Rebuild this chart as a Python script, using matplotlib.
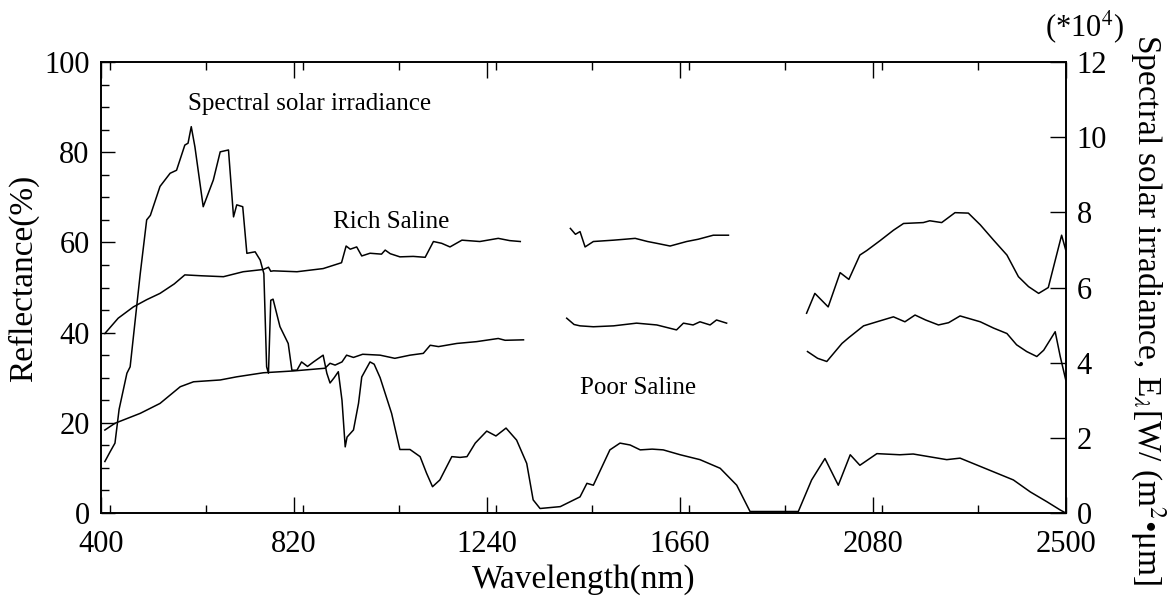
import matplotlib
matplotlib.use("Agg")
import matplotlib.pyplot as plt
from matplotlib.ticker import MultipleLocator

plt.rcParams['font.family'] = ['Liberation Serif', 'DejaVu Serif']
plt.rcParams['mathtext.fontset'] = 'stix'

# ---- data ----
irr_nm = [409, 420, 431, 440, 457, 464, 486, 500, 508, 529, 551, 565, 583, 590, 597, 605,
          623, 645, 660, 678, 689, 696, 709, 718, 736, 747, 755, 761, 765, 770, 775, 790,
          808, 816, 827, 837, 850, 863, 884, 892, 899, 908, 917, 925, 932, 936, 950, 961,
          968, 986, 995, 1008, 1033, 1051, 1073, 1095, 1109, 1122, 1138, 1164, 1182, 1197,
          1215, 1240, 1260, 1282, 1305, 1327, 1341, 1356, 1400, 1443, 1458, 1472, 1508,
          1530, 1552, 1574, 1600, 1624, 1661, 1704, 1748, 1784, 1813, 1918, 1947, 1976,
          2005, 2031, 2052, 2089, 2139, 2168, 2241, 2270, 2314, 2350, 2386, 2423, 2459,
          2488, 2500]
irr_val = [1.37, 1.62, 1.86, 2.76, 3.72, 3.89, 6.37, 7.80, 7.92, 8.69, 9.04, 9.12, 9.79, 9.84,
           10.28, 9.74, 8.15, 8.86, 9.61, 9.66, 7.88, 8.20, 8.15, 6.91, 6.95, 6.73, 6.37, 3.89,
           3.72, 5.66, 5.69, 4.96, 4.51, 3.80, 3.80, 4.02, 3.90, 4.02, 4.20, 3.72, 3.46, 3.60,
           3.76, 3.00, 1.76, 2.02, 2.21, 2.92, 3.62, 4.02, 3.96, 3.60, 2.65, 1.69, 1.69, 1.50,
           1.06, 0.70, 0.88, 1.50, 1.48, 1.50, 1.86, 2.18, 2.05, 2.26, 1.94, 1.32, 0.35, 0.12,
           0.17, 0.43, 0.79, 0.74, 1.68, 1.86, 1.81, 1.68, 1.70, 1.68, 1.55, 1.42, 1.19, 0.74,
           0.04, 0.04, 0.88, 1.45, 0.74, 1.55, 1.27, 1.58, 1.55, 1.57, 1.42, 1.46, 1.24, 1.06,
           0.88, 0.56, 0.30, 0.08, 0.0]

rich1_nm = [409, 438, 471, 500, 529, 560, 583, 620, 667, 710, 754, 765, 770, 776, 827, 884,
            924, 934, 943, 957, 968, 986, 1011, 1019, 1030, 1051, 1080, 1106, 1124, 1142,
            1160, 1186, 1225, 1265, 1290, 1313]
rich1_val = [39.8, 43.2, 45.7, 47.3, 48.7, 50.8, 52.8, 52.6, 52.4, 53.5, 54.0, 54.5, 53.6,
             53.7, 53.5, 54.2, 55.5, 59.2, 58.5, 59.0, 57.0, 57.6, 57.4, 58.3, 57.5, 56.8,
             56.9, 56.7, 60.2, 59.8, 59.0, 60.5, 60.2, 60.9, 60.4, 60.2]
rich2_nm = [1422, 1433, 1443, 1454, 1472, 1516, 1540, 1563, 1590, 1610, 1639, 1675, 1700,
            1733, 1766]
rich2_val = [63.1, 61.8, 62.4, 59.0, 60.2, 60.5, 60.7, 60.9, 60.2, 59.8, 59.2, 60.2, 60.7,
             61.6, 61.6]
rich3_nm = [1936, 1954, 1983, 2009, 2028, 2052, 2067, 2096, 2125, 2147, 2190, 2204, 2230,
            2259, 2288, 2314, 2343, 2372, 2397, 2419, 2441, 2462, 2491, 2500]
rich3_val = [44.3, 48.7, 45.7, 53.3, 51.8, 57.2, 58.2, 60.4, 62.7, 64.2, 64.4, 64.8, 64.4,
             66.6, 66.5, 63.9, 60.5, 57.2, 52.4, 50.2, 48.7, 50.0, 61.6, 58.3]

poor1_nm = [409, 431, 486, 529, 573, 602, 660, 696, 754, 819, 888, 899, 910, 925, 935, 950,
            970, 1008, 1040, 1073, 1102, 1117, 1135, 1175, 1218, 1265, 1280, 1320]
poor1_val = [18.4, 19.9, 22.1, 24.3, 28.0, 29.1, 29.5, 30.2, 31.1, 31.5, 32.1, 33.2, 32.8,
             33.5, 35.0, 34.5, 35.2, 35.0, 34.3, 35.0, 35.4, 37.2, 36.9, 37.6, 38.0, 38.7,
             38.3, 38.4]
poor2_nm = [1414, 1430, 1443, 1472, 1516, 1566, 1610, 1653, 1668, 1689, 1704, 1726, 1740, 1762]
poor2_val = [43.2, 41.8, 41.5, 41.3, 41.5, 42.1, 41.7, 40.6, 42.1, 41.7, 42.4, 41.7, 42.8, 42.1]
poor3_nm = [1938, 1960, 1980, 2013, 2028, 2060, 2089, 2125, 2150, 2172, 2195, 2223, 2245,
            2270, 2314, 2343, 2372, 2393, 2415, 2437, 2452, 2477, 2488, 2500]
poor3_val = [35.8, 34.3, 33.6, 37.6, 38.9, 41.5, 42.4, 43.5, 42.4, 43.9, 42.8, 41.7, 42.2,
             43.7, 42.4, 41.0, 39.8, 37.3, 35.8, 34.7, 36.1, 40.2, 34.7, 29.5]

x_ticks = [400, 820, 1240, 1660, 2080, 2500]
y_left_ticks = [0, 20, 40, 60, 80, 100]
y_right_ticks = [0, 2, 4, 6, 8, 10, 12]

# ---- figure ----
fig = plt.figure(figsize=(11.74, 6.01), dpi=100)
ax = fig.add_axes([0.0858, 0.1464, 0.8220, 0.7504])
ax2 = ax.twinx()

lw = 1.1
for xs, ys in [(rich1_nm, rich1_val), (rich2_nm, rich2_val), (rich3_nm, rich3_val),
               (poor1_nm, poor1_val), (poor2_nm, poor2_val), (poor3_nm, poor3_val)]:
    ax.plot(xs, ys, color='black', lw=lw)
ax2.plot(irr_nm, irr_val, color='black', lw=lw)

ax.set_xlim(400, 2500)
ax.set_ylim(0, 100)
ax2.set_ylim(0, 12)

ax.set_xticks(x_ticks)
ax.xaxis.set_minor_locator(MultipleLocator(210))
ax.set_yticks(y_left_ticks)
ax.yaxis.set_minor_locator(MultipleLocator(5))
ax2.set_yticks(y_right_ticks)

tfs = 22
lfs = 24
ax.tick_params(axis='x', which='major', direction='in', length=11.5, width=1.0,
               top=True, labelsize=tfs, pad=12)
ax.tick_params(axis='x', which='minor', direction='in', length=6, width=1.0, top=True)
ax.tick_params(axis='y', which='major', direction='in', length=10, width=1.0,
               right=False, labelsize=tfs, pad=8)
ax.tick_params(axis='y', which='minor', direction='in', length=6, width=1.0, right=False)
ax2.tick_params(axis='y', which='major', direction='in', length=11.5, width=1.0,
                labelsize=tfs, pad=8)

for a in (ax, ax2):
    for s in a.spines.values():
        s.set_linewidth(1.2)

ax.set_xlabel('Wavelength(nm)', fontsize=lfs, va='center')
ax.xaxis.set_label_coords(0.5, -0.148)
ax.set_ylabel('Reflectance(%)', fontsize=lfs, va='center')
ax.yaxis.set_label_coords(-0.08, 0.52)
ax2.set_ylabel(r'Spectral solar irradiance, E$_\lambda$[W/ (m$^2$•μm]', fontsize=lfs,
               rotation=270, va='center')
ax2.yaxis.set_label_coords(1.085, 0.45)

fig.text(0.924, 0.955, r'(*10$^4$)', fontsize=tfs, ha='center', va='center')

afs = 18
ax.text(590, 90.7, 'Spectral solar irradiance', fontsize=afs, ha='left', va='center')
ax.text(905, 64.5, 'Rich Saline', fontsize=afs, ha='left', va='center')
ax.text(1443, 27.7, 'Poor Saline', fontsize=afs, ha='left', va='center')

fig.savefig('out.png', dpi=100)
